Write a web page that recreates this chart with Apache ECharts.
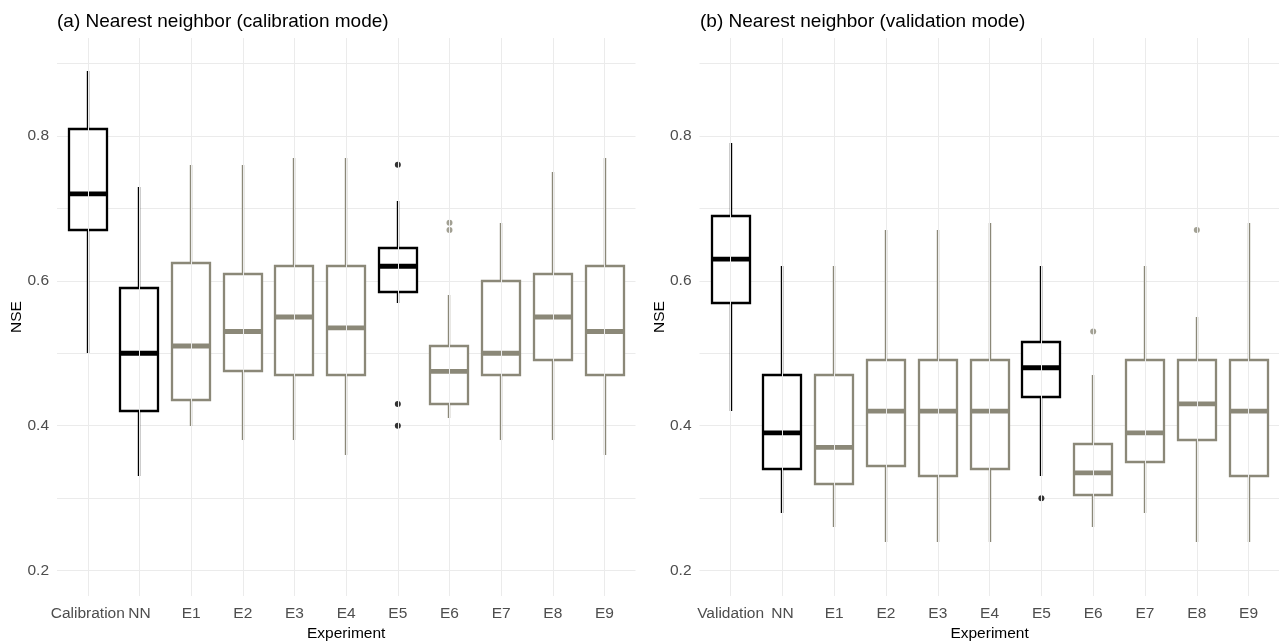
<!DOCTYPE html>
<html><head><meta charset="utf-8">
<script src="https://cdn.jsdelivr.net/npm/echarts@6/dist/echarts.min.js"></script>
<style>html,body{margin:0;padding:0;background:#fff}#c{width:1279px;height:641px}</style>
</head><body><div id="c"></div>
<script>
// ---------- data ----------
const categoriesA = ['Calibration','NN','E1','E2','E3','E4','E5','E6','E7','E8','E9'];
const categoriesB = ['Validation','NN','E1','E2','E3','E4','E5','E6','E7','E8','E9'];
const highlightA = ['Calibration','NN','E5'];
const highlightB = ['Validation','NN','E5'];

const calibLow  = [0.50,0.33,0.40,0.38,0.38,0.36,0.57,0.41,0.38,0.38,0.36];
const calibQ1   = [0.67,0.42,0.435,0.475,0.47,0.47,0.584,0.43,0.47,0.49,0.47];
const calibMed  = [0.72,0.50,0.51,0.53,0.55,0.535,0.62,0.475,0.50,0.55,0.53];
const calibQ3   = [0.81,0.59,0.625,0.61,0.62,0.62,0.645,0.51,0.60,0.61,0.62];
const calibHigh = [0.89,0.73,0.76,0.76,0.77,0.77,0.71,0.58,0.68,0.75,0.77];
const calibOutliers = [['E5',0.76],['E5',0.43],['E5',0.40],['E6',0.68],['E6',0.67]];

const validLow  = [0.42,0.28,0.26,0.24,0.24,0.24,0.33,0.26,0.28,0.24,0.24];
const validQ1   = [0.57,0.34,0.32,0.345,0.33,0.34,0.44,0.305,0.35,0.38,0.33];
const validMed  = [0.63,0.39,0.37,0.42,0.42,0.42,0.48,0.335,0.39,0.43,0.42];
const validQ3   = [0.69,0.47,0.47,0.49,0.49,0.49,0.515,0.375,0.49,0.49,0.49];
const validHigh = [0.79,0.62,0.62,0.67,0.67,0.68,0.62,0.47,0.62,0.55,0.68];
const validOutliers = [['E5',0.30],['E6',0.53],['E8',0.67]];

const yGridValues  = [0.2,0.3,0.4,0.5,0.6,0.7,0.8,0.9];
const yLabelValues = [0.2,0.4,0.6,0.8];
const yMin = 0.165, yMax = 0.935;

const titles = ['(a) Nearest neighbor (calibration mode)','(b) Nearest neighbor (validation mode)'];

// ---------- styling ----------
const F = 'Liberation Sans, Arial, sans-serif';
const BLACK = '#000000', GREY = '#8B8878', GRID = '#EBEBEB', TXT = '#4D4D4D';

const chart = echarts.init(document.getElementById('c'), null, {renderer:'canvas'});

function bgY(gi){
  return {type:'value', gridIndex:gi, min:yMin, max:yMax,
    name:'NSE', nameLocation:'middle', nameGap:32, nameRotate:90, nameMoveOverlap:false,
    nameTextStyle:{color:'#000', fontSize:15.5, fontFamily:F},
    axisLine:{show:false}, axisTick:{show:false, customValues:yGridValues},
    axisLabel:{customValues:yLabelValues, color:TXT, fontSize:15.5, margin:8, fontFamily:F},
    splitLine:{show:true, lineStyle:{color:GRID, width:1}}};
}
function dataY(gi){
  return {type:'value', gridIndex:gi, min:yMin, max:yMax, show:false,
    splitLine:{show:false}, axisLabel:{show:false}};
}
function bgX(gi){
  return {type:'value', gridIndex:gi, min:0, max:1, show:false, splitLine:{show:false}};
}
function dataX(gi, cats){
  return {type:'category', gridIndex:gi, data:cats, boundaryGap:true,
    axisLine:{show:false}, axisTick:{show:false},
    axisLabel:{color:TXT, fontSize:15.5, margin:10, interval:0, fontFamily:F},
    splitLine:{show:false},
    name:'Experiment', nameLocation:'middle', nameGap:30, nameMoveOverlap:false,
    nameTextStyle:{color:'#000', fontSize:15.5, fontFamily:F}};
}

function boxSeries(ai, cats, hl, low, q1, med, q3, high){
  const data = cats.map((c,i)=>[i, low[i], q1[i], med[i], q3[i], high[i]]);
  return {type:'custom', xAxisIndex:ai, yAxisIndex:ai, z:3, silent:true, data,
    encode:{x:0, y:[1,2,3,4,5]},
    renderItem:function(params, api){
      const i = api.value(0);
      const col = hl.indexOf(cats[i]) >= 0 ? BLACK : GREY;
      const x = Math.round(api.coord([i, api.value(3)])[0]);
      const yl = Math.round(api.coord([i, api.value(1)])[1]);
      const y1 = Math.round(api.coord([i, api.value(2)])[1]);
      const ym = api.coord([i, api.value(3)])[1];
      const y3 = Math.round(api.coord([i, api.value(4)])[1]);
      const yh = Math.round(api.coord([i, api.value(5)])[1]);
      const hw = Math.round(api.size([1,0])[0]*0.75/2);
      return {type:'group', children:[
        {type:'line', shape:{x1:x,y1:yh,x2:x,y2:y3}, style:{stroke:col, lineWidth:2.4}},
        {type:'line', shape:{x1:x,y1:y1,x2:x,y2:yl}, style:{stroke:col, lineWidth:2.4}},
        {type:'rect', shape:{x:x-hw, y:y3, width:2*hw, height:y1-y3}, style:{fill:'#fff', stroke:col, lineWidth:2.3}},
        {type:'line', shape:{x1:x-hw,y1:ym,x2:x+hw,y2:ym}, style:{stroke:col, lineWidth:4.8, lineCap:'butt'}}
      ]};
    }};
}
function outlierSeries(ai, hl, pts){
  return {type:'scatter', xAxisIndex:ai, yAxisIndex:ai, z:4, silent:true,
    symbol:'circle', symbolSize:6,
    data: pts.map(p=>({value:p, itemStyle:{color: hl.indexOf(p[0])>=0 ? BLACK : GREY, borderWidth:0}}))};
}
function vGridSeries(ai, cats){
  return {type:'line', xAxisIndex:ai, yAxisIndex:ai, z:1, silent:true, data:[],
    markLine:{silent:true, animation:false, symbol:['none','none'], label:{show:false},
      lineStyle:{color:GRID, width:1, type:'solid'},
      emphasis:{disabled:true},
      data: cats.map(c=>({xAxis:c}))}};
}

const G = {top:38, bottom:45, outerBoundsMode:'none', containLabel:false};
const option = {
  animation:false,
  backgroundColor:'#ffffff',
  title:[
    {text:titles[0], left:57, top:12, padding:0, textStyle:{color:'#000', fontSize:19, fontWeight:'normal', fontFamily:F}},
    {text:titles[1], left:700, top:12, padding:0, textStyle:{color:'#000', fontSize:19, fontWeight:'normal', fontFamily:F}}
  ],
  grid:[
    Object.assign({left:57, right:643.5}, G),
    Object.assign({left:61.95, right:648.65}, G),
    Object.assign({left:699.5, right:0}, G),
    Object.assign({left:704.7, right:4.5}, G)
  ],
  xAxis:[bgX(0), dataX(1, categoriesA), bgX(2), dataX(3, categoriesB)],
  yAxis:[bgY(0), dataY(1), bgY(2), dataY(3)],
  series:[
    vGridSeries(1, categoriesA),
    boxSeries(1, categoriesA, highlightA, calibLow, calibQ1, calibMed, calibQ3, calibHigh),
    outlierSeries(1, highlightA, calibOutliers),
    vGridSeries(3, categoriesB),
    boxSeries(3, categoriesB, highlightB, validLow, validQ1, validMed, validQ3, validHigh),
    outlierSeries(3, highlightB, validOutliers)
  ]
};
chart.setOption(option);
</script></body></html>
